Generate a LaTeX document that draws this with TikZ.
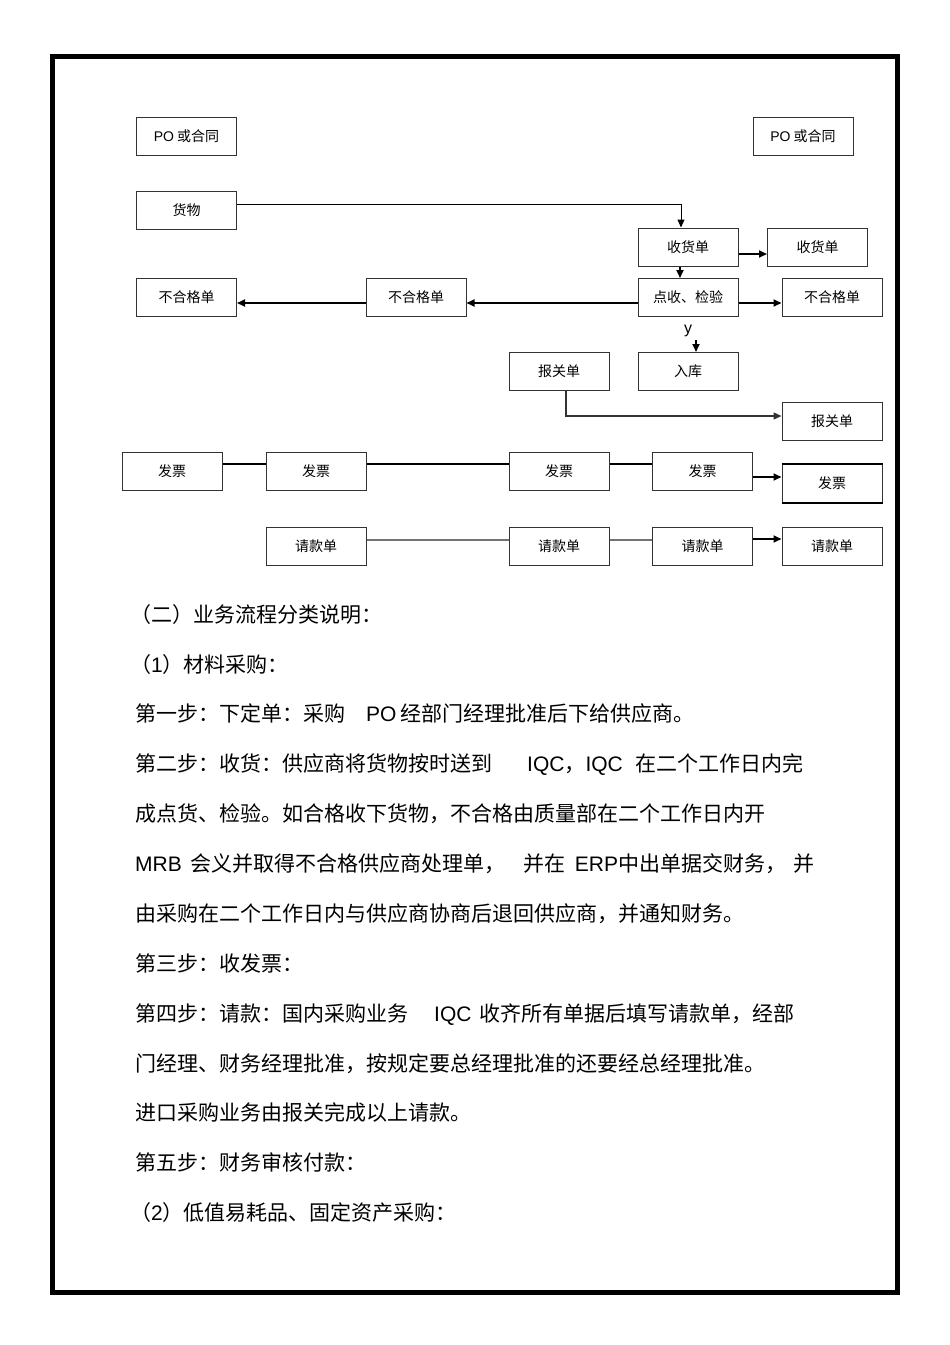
\documentclass[tikz,border=0pt]{standalone}
\usepackage{fontspec}
\setmainfont{Liberation Sans}
\newfontfamily\cjk{Noto Sans CJK SC}
\usetikzlibrary{arrows.meta}
\newcommand{\ltn}[1]{{\rmfamily #1}}

\begin{document}
\begin{tikzpicture}[x=1pt,y=-1pt]
            \tikzstyle{box}=[rectangle,draw=black!80,line width=1pt,fill=white,minimum width=100pt,minimum height=38pt,inner sep=0pt,font=\fontsize{14}{16}\selectfont\cjk]
            \tikzstyle{arr}=[line width=1.8pt,-{Triangle[length=8pt,width=7pt]}]
            \tikzstyle{txt}=[anchor=base west,inner sep=0pt,font=\fontsize{21}{24}\selectfont\cjk]
            \useasboundingbox (0,0) rectangle (950,1345);
            \draw[line width=5pt] (52.5,56.5) rectangle (897,1292);

                \node[box] (po-l) at (186.5,136) {\ltn{PO} 或合同};
                \node[box] (po-r) at (803,136) {\ltn{PO} 或合同};
                \node[box] (goods) at (186.5,210) {货物};
                \node[box] (recv) at (688,247) {收货单};
                \node[box] (recv-r) at (817.5,247) {收货单};
                \node[box] (check) at (688,297.5) {点收、检验};
                \foreach \name/\x in {bad-l/186.5, bad-m/416, bad-r/832}
                    \node[box] (\name) at (\x,297.5) {不合格单};
                \node[box] (store) at (688,371.5) {入库};
                \node[box] (cus-l) at (559,371.5) {报关单};
                \node[box] (cus-r) at (832,421.5) {报关单};
                \foreach \num/\x in {1/172, 2/316, 3/559, 4/702.5}
                    \node[box] (inv-\num) at (\x,471) {发票};
                \node[box] (inv-5) at (832,483) {发票};
                \foreach \num/\x in {2/316, 3/559, 4/702.5, 5/832}
                    \node[box] (req-\num) at (\x,546) {请款单};

                \draw[arr,line width=1pt] ([yshift=6pt]goods.east) -| ([xshift=-7pt]recv.north);
                \draw[arr] ([xshift=-8pt]recv.south) -- ([xshift=-8pt]check.north);
                \draw[arr] ([yshift=-7pt]recv.east) -- ([yshift=-7pt]recv-r.west);
                \draw[arr] ([yshift=-5.5pt]check.east) -- ([yshift=-5.5pt]bad-r.west);
                \draw[arr] ([yshift=-5.5pt]check.west) -- ([yshift=-5.5pt]bad-m.east);
                \draw[arr] ([yshift=-5.5pt]bad-m.west) -- ([yshift=-5.5pt]bad-l.east);

                \node[inner sep=0pt,font=\fontsize{16}{18}\selectfont] (yes) at (688,331) {y};
                \coordinate (yes-tail) at (696,340);
                \draw[arr] (yes-tail) -- ([xshift=8pt]store.north);

                \draw[arr,line width=1.4pt,black!80] ([xshift=7pt]cus-l.south) |- ([yshift=5.5pt]cus-r.west);

                \foreach \from/\to in {1/2, 2/3, 3/4}
                    \draw[line width=2pt] ([yshift=7pt]inv-\from.east) -- ([yshift=7pt]inv-\to.west);
                \draw[arr] ([yshift=-6pt]inv-4.east) -- ([yshift=6pt]inv-5.west);
                \draw[line width=2pt] (inv-5.north west) -- (inv-5.north east);
                \draw[line width=2pt] (inv-5.south west) -- (inv-5.south east);

                \foreach \from/\to in {2/3, 3/4}
                    \draw[line width=1.3pt,black!55] ([yshift=6pt]req-\from.east) -- ([yshift=6pt]req-\to.west);
                \draw[arr] ([yshift=7pt]req-4.east) -- ([yshift=7pt]req-5.west);

                \node[txt] (line-1) at (130,622) {（二）业务流程分类说明：};
                \node[txt] (line-2) at (130,672) {（\ltn{1}）材料采购：};
                \node[txt] (line-3) at (135,721) {第一步：下定单：采购\hspace{21pt}\ltn{PO}\hspace{4pt}经部门经理批准后下给供应商。};
                \node[txt] (line-4) at (135,771) {第二步：收货：供应商将货物按时送到\hspace{35pt}\ltn{IQC}，\ltn{IQC}\hspace{13pt}在二个工作日内完};
                \node[txt] (line-5) at (135,821) {成点货、检验。如合格收下货物，不合格由质量部在二个工作日内开};
                \node[txt] (line-6) at (135,871) {\ltn{MRB}\hspace{9pt}会义并取得不合格供应商处理单，\hspace{18pt}并在\hspace{9pt}\ltn{ERP}中出单据交财务，\hspace{7pt}并};
                \node[txt] (line-7) at (135,921) {由采购在二个工作日内与供应商协商后退回供应商，并通知财务。};
                \node[txt] (line-8) at (135,971) {第三步：收发票：};
                \node[txt] (line-9) at (135,1021) {第四步：请款：国内采购业务\hspace{26pt}\ltn{IQC}\hspace{8pt}收齐所有单据后填写请款单，经部};
                \node[txt] (line-10) at (135,1071) {门经理、财务经理批准，按规定要总经理批准的还要经总经理批准。};
                \node[txt] (line-11) at (135,1120) {进口采购业务由报关完成以上请款。};
                \node[txt] (line-12) at (135,1170) {第五步：财务审核付款：};
                \node[txt] (line-13) at (130,1220) {（\ltn{2}）低值易耗品、固定资产采购：};
        \end{tikzpicture}
\end{document}
